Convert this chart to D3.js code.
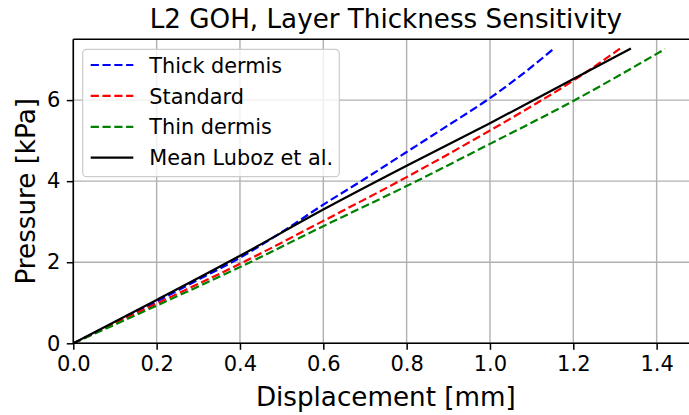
<!DOCTYPE html>
<html>
<head>
<meta charset="utf-8">
<script src="https://cdn.jsdelivr.net/npm/d3@7"></script>
<style>
  html, body { margin: 0; padding: 0; background: #fff; }
  svg { display: block; font-family: "DejaVu Sans", sans-serif; }
</style>
</head>
<body>
<div id="chart"></div>
<script>
// ---- Data ----
const thickX = [0, 0.1, 0.2, 0.3, 0.4, 0.5, 0.6, 0.7, 0.8, 0.9, 1.0, 1.1, 1.15];
const thickY = [0, 0.51, 1.03, 1.57, 2.11, 2.74, 3.42, 4.06, 4.72, 5.38, 6.05, 6.82, 7.24];
const standardX = [0, 0.2, 0.4, 0.6, 0.8, 1.0, 1.1, 1.2, 1.312];
const standardY = [0, 0.98, 1.96, 3.02, 4.10, 5.25, 5.85, 6.48, 7.27];
const thinX = [0, 0.2, 0.4, 0.6, 0.8, 1.0, 1.2, 1.42];
const thinY = [0, 0.93, 1.88, 2.89, 3.88, 4.92, 5.98, 7.26];
const lubozX = [0, 0.2, 0.4, 0.6, 0.8, 1.0, 1.2, 1.336];
const lubozY = [0, 1.07, 2.16, 3.30, 4.38, 5.43, 6.52, 7.26];

const seriesNames = ["Thick dermis", "Standard", "Thin dermis", "Mean Luboz et al."];
const xTicks = [0, 0.2, 0.4, 0.6, 0.8, 1.0, 1.2, 1.4];
const yTicks = [0, 2, 4, 6];
const xDomain = [0, 1.5];
const yDomain = [0, 7.5];

const series = [
  { name: seriesNames[0], xs: thickX, ys: thickY, color: "#0000ff", dash: "8.2,3.6" },
  { name: seriesNames[1], xs: standardX, ys: standardY, color: "#ff0000", dash: "8.2,3.6" },
  { name: seriesNames[2], xs: thinX, ys: thinY, color: "#008000", dash: "8.2,3.6" },
  { name: seriesNames[3], xs: lubozX, ys: lubozY, color: "#000000", dash: null }
];

// ---- Layout ----
const W = 689, H = 415;
const plot = { left: 73.3, right: 698.3, top: 39.3, bottom: 343.3 };

const svg = d3.select("#chart").append("svg").attr("width", W).attr("height", H);

const x = d3.scaleLinear().domain(xDomain).range([plot.left, plot.right]);
const y = d3.scaleLinear().domain(yDomain).range([plot.bottom, plot.top]);

svg.append("defs").append("clipPath").attr("id", "clip")
  .append("rect").attr("x", plot.left).attr("y", plot.top)
  .attr("width", plot.right - plot.left).attr("height", plot.bottom - plot.top);

// grid
const grid = svg.append("g");
grid.selectAll("line.vx").data(xTicks).enter().append("line")
  .attr("x1", d => x(d)).attr("x2", d => x(d))
  .attr("y1", plot.top).attr("y2", plot.bottom)
  .attr("stroke", "#b0b0b0").attr("stroke-width", 1.4);
grid.selectAll("line.hy").data(yTicks).enter().append("line")
  .attr("y1", d => y(d)).attr("y2", d => y(d))
  .attr("x1", plot.left).attr("x2", plot.right)
  .attr("stroke", "#b0b0b0").attr("stroke-width", 1.4);

// lines
const lineGen = d3.line().x(d => x(d[0])).y(d => y(d[1])).curve(d3.curveMonotoneX);
const lines = svg.append("g").attr("clip-path", "url(#clip)");
series.forEach(s => {
  const pts = s.xs.map((v, i) => [v, s.ys[i]]);
  lines.append("path").datum(pts)
    .attr("d", lineGen)
    .attr("fill", "none")
    .attr("stroke", s.color)
    .attr("stroke-width", 2.2)
    .attr("stroke-dasharray", s.dash)
    .attr("stroke-linecap", s.dash ? "butt" : "square");
});

// axes
const fontTick = 21;
const xAxis = d3.axisBottom(x).tickValues(xTicks).tickFormat(d3.format(".1f")).tickSize(6.5).tickPadding(6);
const yAxis = d3.axisLeft(y).tickValues(yTicks).tickFormat(d3.format("d")).tickSize(6.5).tickPadding(6.5);

const gx = svg.append("g").attr("transform", `translate(0,${plot.bottom})`).call(xAxis);
const gy = svg.append("g").attr("transform", `translate(${plot.left},0)`).call(yAxis);
[gx, gy].forEach(g => {
  g.select(".domain").remove();
  g.selectAll(".tick line").attr("stroke", "#000").attr("stroke-width", 1.5);
  g.selectAll(".tick text").attr("font-size", fontTick).attr("fill", "#000")
    .attr("font-family", "DejaVu Sans");
});

// spines
svg.append("line").attr("x1", plot.left).attr("x2", plot.right).attr("y1", plot.bottom).attr("y2", plot.bottom)
  .attr("stroke", "#000").attr("stroke-width", 1.6);
svg.append("line").attr("x1", plot.left).attr("x2", plot.right).attr("y1", plot.top).attr("y2", plot.top)
  .attr("stroke", "#000").attr("stroke-width", 1.6);
svg.append("line").attr("x1", plot.left).attr("x2", plot.left).attr("y1", plot.top).attr("y2", plot.bottom)
  .attr("stroke", "#000").attr("stroke-width", 1.6);
svg.append("line").attr("x1", plot.right).attr("x2", plot.right).attr("y1", plot.top).attr("y2", plot.bottom)
  .attr("stroke", "#000").attr("stroke-width", 1.6);

// title & labels
const cx = (plot.left + plot.right) / 2;
svg.append("text").attr("x", cx).attr("y", 28.3).attr("text-anchor", "middle")
  .attr("font-size", 26.2).attr("fill", "#000").text("L2 GOH, Layer Thickness Sensitivity");
svg.append("text").attr("x", cx).attr("y", 405.5).attr("text-anchor", "middle")
  .attr("font-size", 26.2).attr("fill", "#000").text("Displacement [mm]");
svg.append("text").attr("transform", `translate(34.5,${(plot.top + plot.bottom) / 2}) rotate(-90)`)
  .attr("text-anchor", "middle").attr("font-size", 26.2).attr("fill", "#000").text("Pressure [kPa]");

// legend
const leg = svg.append("g");
leg.append("rect").attr("x", 82.7).attr("y", 49.3).attr("width", 256.6).attr("height", 127.4)
  .attr("rx", 4).attr("ry", 4)
  .attr("fill", "#fff").attr("fill-opacity", 0.8)
  .attr("stroke", "#cccccc").attr("stroke-width", 1.2);
const rowY = d3.scaleLinear().domain([0, 3]).range([65, 157.7]);
series.forEach((s, i) => {
  const yy = rowY(i);
  leg.append("line").attr("x1", 90.7).attr("x2", 133.3).attr("y1", yy).attr("y2", yy)
    .attr("stroke", s.color).attr("stroke-width", 2.2)
    .attr("stroke-dasharray", s.dash);
  leg.append("text").attr("x", 149.3).attr("y", yy + 7.6)
    .attr("font-size", 20.8).attr("fill", "#000").text(s.name);
});
</script>
</body>
</html>
